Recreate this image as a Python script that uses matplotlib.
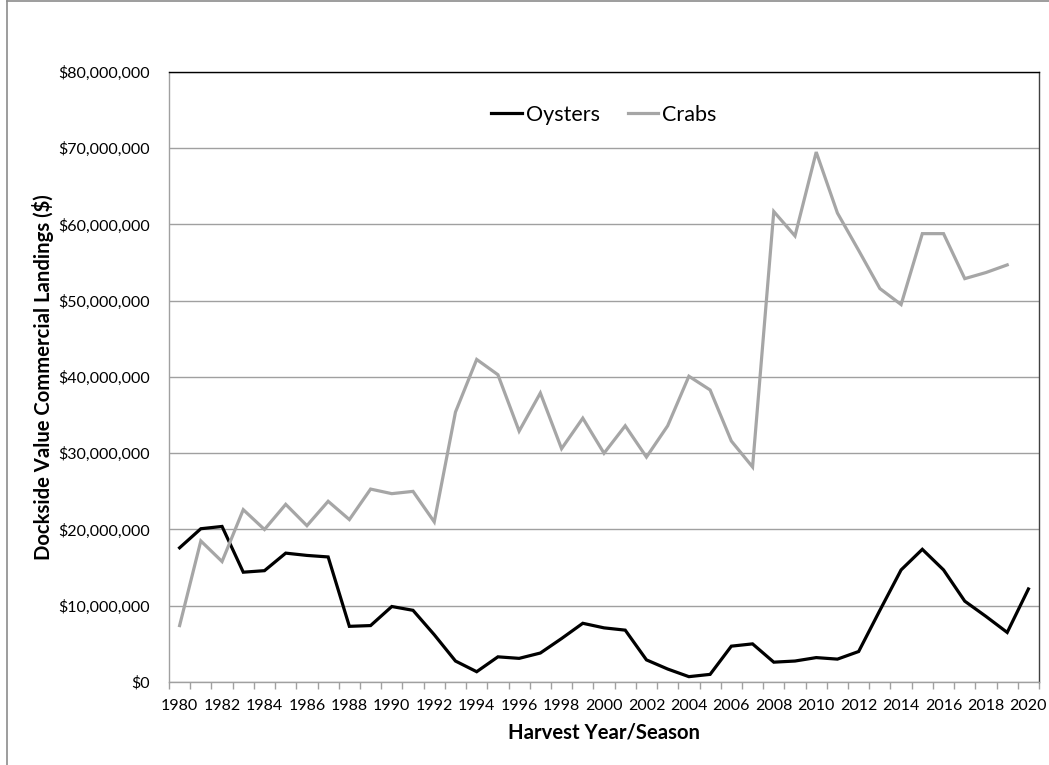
import numpy as np
import matplotlib
matplotlib.use("Agg")
import matplotlib.pyplot as plt
from matplotlib.ticker import FuncFormatter, FixedLocator
from matplotlib.lines import Line2D

plt.rcParams['font.family'] = ['Lato', 'DejaVu Sans']

years = list(range(1980, 2021))

# dockside value, millions of dollars
oysters = [17.6, 20.1, 20.4, 14.4, 14.6, 16.9, 16.6, 16.4, 7.3, 7.4,
           9.9, 9.4, 6.2, 2.75, 1.35, 3.3, 3.1, 3.8, 5.7, 7.7,
           7.1, 6.8, 2.9, 1.7, 0.7, 1.0, 4.7, 5.0, 2.6, 2.75,
           3.2, 3.0, 4.0, 9.4, 14.7, 17.4, 14.7, 10.6, 8.6, 6.5,
           12.2]
crabs = [7.4, 18.5, 15.8, 22.6, 20.0, 23.3, 20.5, 23.7, 21.3, 25.3,
         24.7, 25.0, 21.0, 35.4, 42.3, 40.3, 32.9, 37.9, 30.6, 34.6,
         30.0, 33.6, 29.5, 33.6, 40.1, 38.3, 31.6, 28.2, 61.7, 58.5,
         69.5, 61.5, 56.6, 51.6, 49.5, 58.8, 58.8, 52.9, 53.7, 54.7,
         np.nan]

fig = plt.figure(figsize=(10.49, 7.65), dpi=100)
ax = fig.add_axes([0.1611, 0.1085, 0.9905 - 0.1611, 0.9059 - 0.1085])

x = np.arange(len(years))
oy = np.array(oysters) * 1e6
cr = np.array(crabs) * 1e6

ax.plot(x, oy, color='black', lw=2.3, label='Oysters', solid_joinstyle='miter')
ax.plot(x, cr, color='#a6a6a6', lw=2.3, label='Crabs', solid_joinstyle='miter')

ax.set_xlim(-0.5, len(years) - 0.5)
ax.set_ylim(0, 80e6)
ax.set_yticks(np.arange(0, 80e6 + 1, 10e6))
ax.yaxis.set_major_formatter(FuncFormatter(lambda v, p: '${:,.0f}'.format(v)))
ax.grid(axis='y', color='#a0a0a0', lw=1.0)
ax.set_axisbelow(True)

# category axis: labels every other year, ticks between categories
ax.set_xticks(x[::2])
ax.set_xticklabels([str(y) for y in years[::2]])
ax.xaxis.set_minor_locator(FixedLocator(np.arange(-0.5, len(years), 1)))
ax.tick_params(axis='x', which='major', length=0, pad=12, labelsize=11.5)
ax.tick_params(axis='x', which='minor', length=5, width=1, color='#a0a0a0')
ax.tick_params(axis='y', length=0, pad=14, labelsize=11.5)

for s in ['left', 'bottom']:
    ax.spines[s].set_color('#a0a0a0')
    ax.spines[s].set_linewidth(1.0)
ax.spines['top'].set_color('black')
ax.spines['top'].set_linewidth(1.0)
ax.spines['right'].set_color('#404040')
ax.spines['right'].set_linewidth(1.0)

ax.set_xlabel('Harvest Year/Season', fontsize=14.6, fontweight='bold', labelpad=7)
ax.set_ylabel('Dockside Value Commercial Landings ($)', fontsize=14.6,
              fontweight='bold', labelpad=3)

ax.legend(loc='upper center', bbox_to_anchor=(0.5, 0.978), ncol=2, frameon=False,
          fontsize=15.5, handlelength=1.4, handletextpad=0.2, columnspacing=1.3)

# outer chart frame (only left and top visible)
fig.add_artist(Line2D([7 / 1049, 7 / 1049], [0, 1 - 1 / 765], color='#8c8c8c', lw=1.2))
fig.add_artist(Line2D([7 / 1049, 1], [1 - 1 / 765, 1 - 1 / 765], color='#8c8c8c', lw=1.2))

fig.savefig('out.png', dpi=100)
